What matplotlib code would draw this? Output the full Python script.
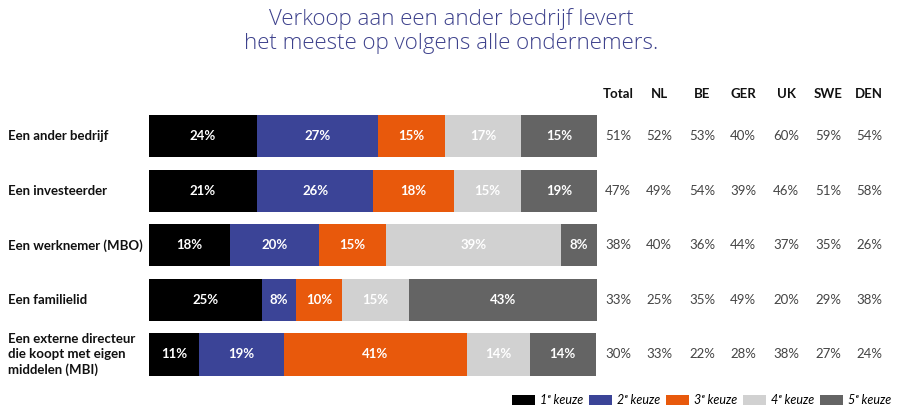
import matplotlib
matplotlib.use("Agg")
import matplotlib.pyplot as plt
import matplotlib.transforms as mtransforms
import numpy as np

plt.rcParams['font.family'] = ['Lato', 'DejaVu Sans']

rows = ["Een ander bedrijf", "Een investeerder", "Een werknemer (MBO)",
        "Een familielid", "Een externe directeur\ndie koopt met eigen\nmiddelen (MBI)"]
# labels printed in the bars
keuze1 = [24, 21, 18, 25, 11]
keuze2 = [27, 26, 20, 8, 19]
keuze3 = [15, 18, 15, 10, 41]
keuze4 = [17, 15, 39, 15, 14]
keuze5 = [15, 19, 8, 43, 14]
# segment lengths as drawn in the picture (% of bar)
len1 = [24.0, 24.0, 18.0, 25.1, 11.0]
len2 = [27.1, 26.1, 19.9, 7.8, 19.0]
len3 = [15.0, 17.9, 15.1, 10.1, 41.0]
len4 = [17.0, 15.1, 39.0, 15.1, 14.0]
len5 = [16.9, 16.9, 8.0, 42.0, 14.8]
series_labels = ["1ᵉ keuze", "2ᵉ keuze", "3ᵉ keuze", "4ᵉ keuze", "5ᵉ keuze"]
colors = ["#000000", "#3b4497", "#e8590c", "#d1d1d1", "#646464"]

columns = ["Total", "NL", "BE", "GER", "UK", "SWE", "DEN"]
table = [
    [51, 52, 53, 40, 60, 59, 54],
    [47, 49, 54, 39, 46, 51, 58],
    [38, 40, 36, 44, 37, 35, 26],
    [33, 25, 35, 49, 20, 29, 38],
    [30, 33, 22, 28, 38, 27, 24],
]

fig = plt.figure(figsize=(9, 4.16), dpi=100)
ax = fig.add_axes([149.3 / 900, 1 - 381.8 / 416, (596.7 - 149.3) / 900, 273.1 / 416])

labels = [keuze1, keuze2, keuze3, keuze4, keuze5]
lengths = np.array([len1, len2, len3, len4, len5])
y = np.arange(len(rows))
left = np.zeros(len(rows))
handles = []
for i in range(5):
    w = lengths[i]
    h = ax.barh(y, w, left=left, height=0.77, color=colors[i], label=series_labels[i])
    handles.append(h)
    for j in range(len(rows)):
        ax.text(left[j] + w[j] / 2, y[j], f"{labels[i][j]}%", ha="center", va="center",
                color="white", fontsize=9.5, fontweight="bold")
    left += w

ax.set_xlim(0, 100)
ax.set_ylim(len(rows) - 0.5, -0.5)
ax.axis("off")

trans_lab = mtransforms.blended_transform_factory(fig.transFigure, ax.transData)
for j, r in enumerate(rows):
    ax.text(8 / 900, y[j], r, transform=trans_lab, ha="left", va="center", fontsize=9.5,
            fontweight="bold", color="#111111", linespacing=1.3)

col_x = [618, 659, 702, 743, 786, 828, 869]
for k, c in enumerate(columns):
    fig.text(col_x[k] / 900, 1 - 94 / 416, c, ha="center", va="center",
             fontsize=9.5, fontweight="bold", color="#111111")
    for j in range(len(rows)):
        ax.text(col_x[k] / 900, y[j], f"{table[j][k]}%", transform=trans_lab,
                ha="center", va="center", fontsize=9.5, color="#444444")

fig.text(451 / 900, 1 - 31 / 416,
         "Verkoop aan een ander bedrijf levert\nhet meeste op volgens alle ondernemers.",
         ha="center", va="center", fontsize=16, fontweight="light", color="#3d418c",
         family=["Open Sans", "DejaVu Sans"], linespacing=1.15)

fig.legend(handles=handles, labels=series_labels, loc="center right",
           bbox_to_anchor=(891 / 900, 1 - 400 / 416), ncol=5, frameon=False,
           prop={"style": "italic", "size": 9}, handlelength=1.8, handleheight=0.9,
           columnspacing=0.5, handletextpad=0.4, borderaxespad=0, borderpad=0)

fig.savefig("out.png", dpi=100)
